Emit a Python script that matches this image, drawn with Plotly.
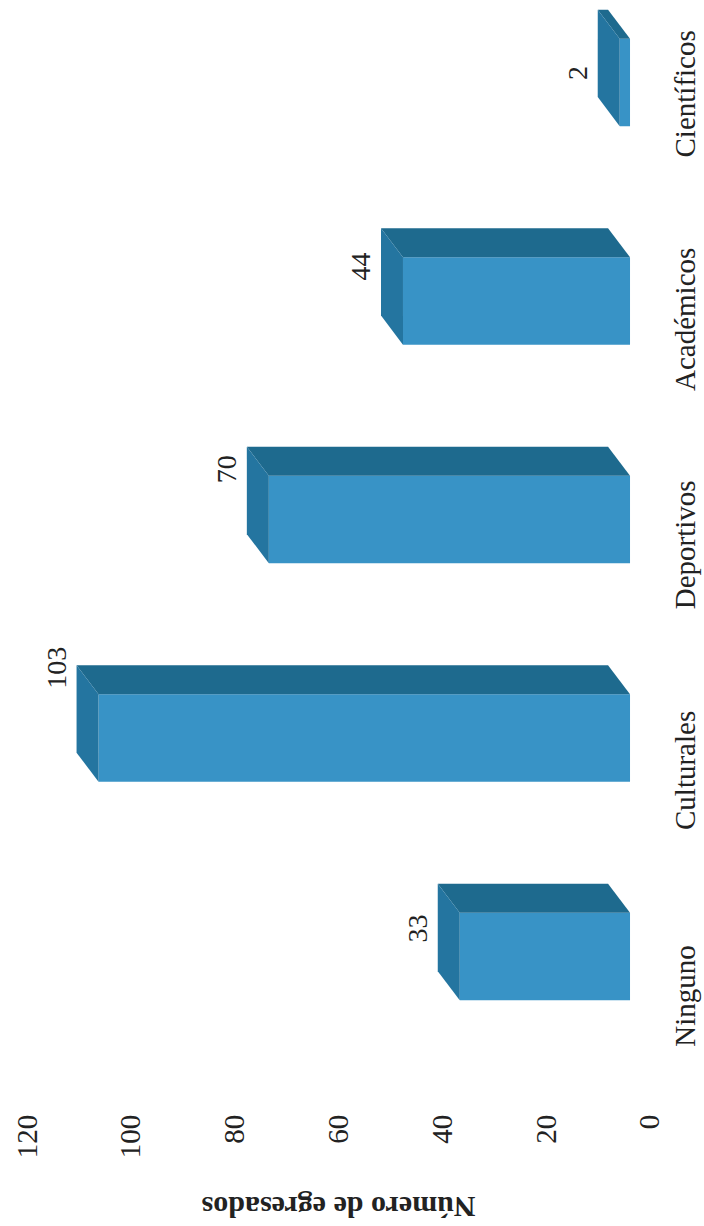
import plotly.graph_objects as go

categories = ["Ninguno", "Culturales", "Deportivos", "Académicos", "Científicos"]
values = [33, 103, 70, 44, 2]
value_ticks = [0, 20, 40, 60, 80, 100, 120]
axis_title = "Número de egresados"

FRONT = "#3893c6"
TOP = "#1e6a8e"
SIDE = "#2475a0"
FONT = "Liberation Serif, Times New Roman, serif"

idx = list(range(len(categories)))
bar_w = 0.40
depth_v = 4.26            # depth of the 3D box, in value units
depth_c = 0.133           # depth of the 3D box, in category units
# category labels are spread slightly wider than the boxes (perspective)
label_pos = [round(-0.2 + 1.032 * i, 3) for i in idx]

fig = go.Figure()

# depth faces (computed from data)
for i, v in zip(idx, values):
    lo = i - bar_w / 2
    hi = i + bar_w / 2
    fig.add_trace(go.Scatter(
        x=[v, 0, depth_v, v + depth_v, v],
        y=[hi, hi, hi + depth_c, hi + depth_c, hi],
        fill="toself", fillcolor=TOP, mode="lines", line=dict(width=0, color=TOP),
        hoverinfo="skip", showlegend=False))
    fig.add_trace(go.Scatter(
        x=[v, v, v + depth_v, v + depth_v, v],
        y=[lo, hi, hi + depth_c, lo + depth_c, lo],
        fill="toself", fillcolor=SIDE, mode="lines", line=dict(width=0, color=SIDE),
        hoverinfo="skip", showlegend=False))

# front faces
fig.add_trace(go.Bar(
    x=values, y=idx, orientation="h", width=bar_w,
    marker=dict(color=FRONT, line=dict(width=0)), showlegend=False))

# empty trace so the tick-label axis is drawn
fig.add_trace(go.Scatter(x=[], y=[], xaxis="x2", yaxis="y", showlegend=False,
                         hoverinfo="skip"))

# value labels
for i, v in zip(idx, values):
    fig.add_annotation(x=v, y=i, xref="x", yref="y",
                       text=str(v), showarrow=False, textangle=-90,
                       xshift=-42, yshift=8 + 0.6 * v,
                       font=dict(family=FONT, size=28, color="#222"))

fig.add_annotation(x=0.505, y=-0.0896, xref="paper", yref="paper",
                   text="<b>" + axis_title + "</b>", showarrow=False, textangle=180,
                   xanchor="center", yanchor="middle",
                   font=dict(family=FONT, size=30, color="#222"))

fig.update_layout(
    width=704, height=1226,
    margin=dict(l=10, r=44, t=4, b=118, autoexpand=False),
    paper_bgcolor="white", plot_bgcolor="white",
    xaxis=dict(range=[120.16, -5.81], showticklabels=False, showgrid=False,
               zeroline=False, showline=False, automargin=False),
    xaxis2=dict(overlaying="x", anchor="y", side="bottom", range=[123.3, -1.93],
                tickmode="array", tickvals=value_ticks,
                ticktext=[str(t) for t in value_ticks], tickangle=-90,
                ticklabelstandoff=0, showgrid=False, zeroline=False, showline=False,
                ticks="", automargin=False,
                tickfont=dict(family=FONT, size=29, color="#222")),
    yaxis=dict(range=[-0.693, 4.359], side="right", tickmode="array",
               tickvals=label_pos, ticktext=categories, tickangle=-90,
               ticklabelstandoff=5, showgrid=False, zeroline=False, showline=False,
               ticks="", automargin=False,
               tickfont=dict(family=FONT, size=29, color="#222")),
)

fig.write_html("out.html", post_script="document.body.style.margin='0';",
               config={"displayModeBar": False})
